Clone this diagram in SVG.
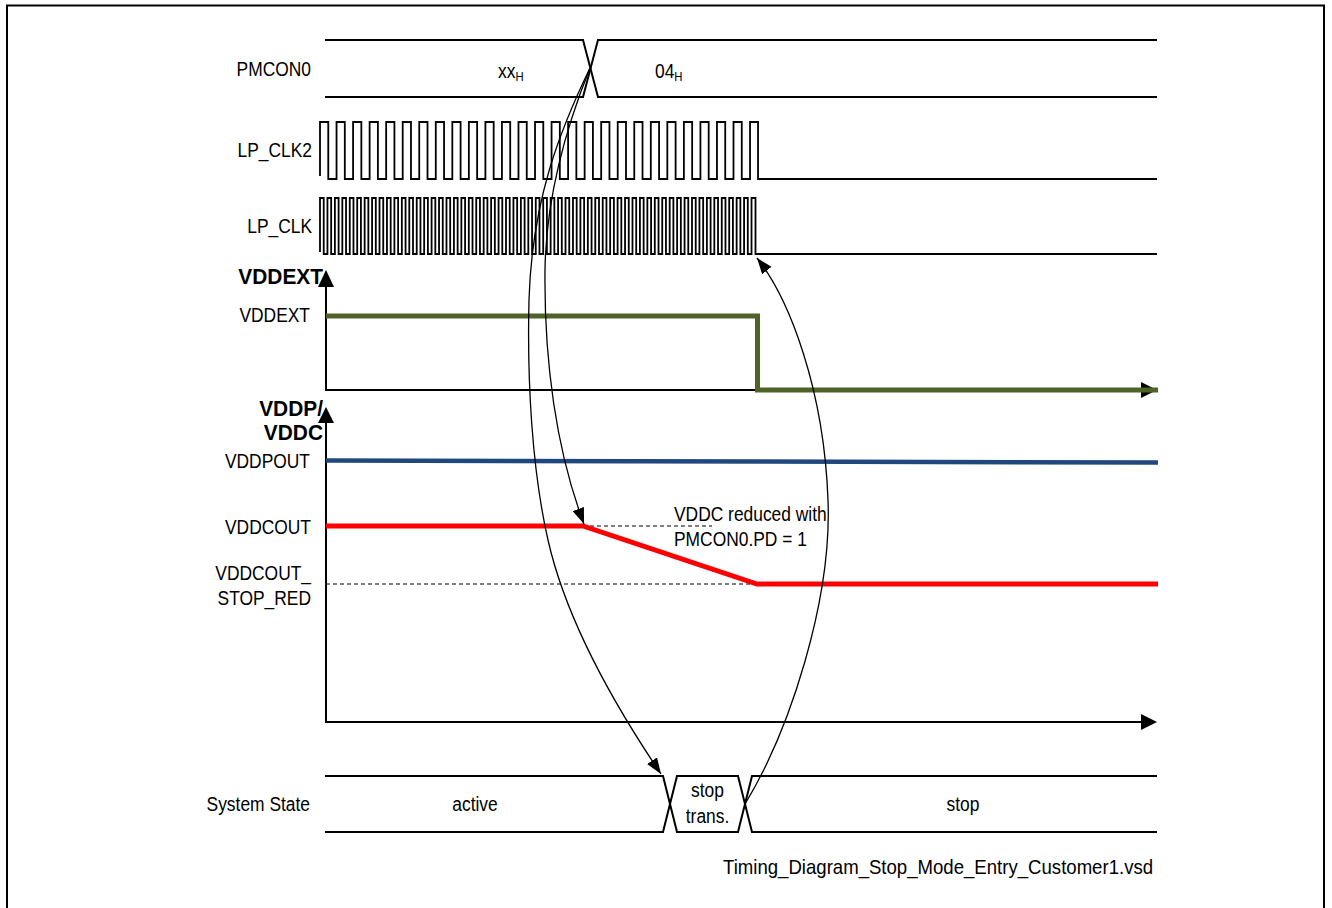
<svg xmlns="http://www.w3.org/2000/svg" width="1332" height="908" viewBox="0 0 1332 908">
<style>
.t{font-family:"Liberation Sans",Arial,sans-serif;font-size:20px;fill:#000}
.b{font-weight:bold;font-size:22px}
.sub{font-size:13px}
.ln{fill:none;stroke:#000;stroke-width:2;stroke-linejoin:miter}
.clk{fill:none;stroke:#000;stroke-width:1.8}
.dash{fill:none;stroke:#000;stroke-width:1;stroke-dasharray:4,3}
.conn{fill:none;stroke:#000;stroke-width:1.3}
.ah{fill:#000}
</style>
<defs>
<marker id="arr" viewBox="0 0 16 12" refX="16" refY="6" markerWidth="16" markerHeight="12" markerUnits="userSpaceOnUse" orient="auto"><path d="M0,0L16,6L0,12z" fill="#000"/></marker>
</defs>
<rect width="1332" height="908" fill="#fff"/>
<path d="M7,908V5.5H1324V908" fill="none" stroke="#000" stroke-width="2"/>

<g id="pmcon0">
<path class="ln" d="M325,40H583L598,97H1157"/>
<path class="ln" d="M325,97H583L598,40H1157"/>
<text class="t" text-anchor="end" transform="translate(311,76) scale(0.87,1)">PMCON0</text>
<text class="t" transform="translate(498,78) scale(0.87,1)">xx<tspan class="sub" dy="3">H</tspan></text>
<text class="t" transform="translate(655,78) scale(0.87,1)">04<tspan class="sub" dy="3">H</tspan></text>
</g>

<g id="lp_clk2">
<path class="clk" d="M320,176V122
h8.27V179h8.27V122 h8.27V179h8.27V122
h8.27V179h8.27V122 h8.27V179h8.27V122
h8.27V179h8.27V122 h8.27V179h8.27V122
h8.27V179h8.27V122 h8.27V179h8.27V122
h8.27V179h8.27V122 h8.27V179h8.27V122
h8.27V179h8.27V122 h8.27V179h8.27V122
h8.27V179h8.27V122 h8.27V179h8.27V122
h8.27V179h8.27V122 h8.27V179h8.27V122
h8.27V179h8.27V122 h8.27V179h8.27V122
h8.27V179h8.27V122 h8.27V179h8.27V122
h8.27V179h8.27V122 h8.27V179h8.27V122
h8.27V179h8.27V122 h8.27V179h8.27V122
h8.27V179h8.27V122 h8.27V179h8.27V122
h8V179H1157"/>
<text class="t" text-anchor="end" transform="translate(312,157) scale(0.87,1)">LP_CLK2</text>
</g>

<g id="lp_clk">
<path class="clk" d="M320,252V198
h3.72V254h3.72V198 h3.72V254h3.72V198 h3.72V254h3.72V198 h3.72V254h3.72V198 h3.72V254h3.72V198 h3.72V254h3.72V198 h3.72V254h3.72V198 h3.72V254h3.72V198 h3.72V254h3.72V198 h3.72V254h3.72V198
h3.72V254h3.72V198 h3.72V254h3.72V198 h3.72V254h3.72V198 h3.72V254h3.72V198 h3.72V254h3.72V198 h3.72V254h3.72V198 h3.72V254h3.72V198 h3.72V254h3.72V198 h3.72V254h3.72V198 h3.72V254h3.72V198
h3.72V254h3.72V198 h3.72V254h3.72V198 h3.72V254h3.72V198 h3.72V254h3.72V198 h3.72V254h3.72V198 h3.72V254h3.72V198 h3.72V254h3.72V198 h3.72V254h3.72V198 h3.72V254h3.72V198 h3.72V254h3.72V198
h3.72V254h3.72V198 h3.72V254h3.72V198 h3.72V254h3.72V198 h3.72V254h3.72V198 h3.72V254h3.72V198 h3.72V254h3.72V198 h3.72V254h3.72V198 h3.72V254h3.72V198 h3.72V254h3.72V198 h3.72V254h3.72V198
h3.72V254h3.72V198 h3.72V254h3.72V198 h3.72V254h3.72V198 h3.72V254h3.72V198 h3.72V254h3.72V198 h3.72V254h3.72V198 h3.72V254h3.72V198 h3.72V254h3.72V198 h3.72V254h3.72V198 h3.72V254h3.72V198
h3.72V254h3.72V198 h3.72V254h3.72V198 h3.72V254h3.72V198 h3.72V254h3.72V198 h3.72V254h3.72V198 h3.72V254h3.72V198 h3.72V254h3.72V198 h3.72V254h3.72V198
H755.5V254H1157"/>
<text class="t" text-anchor="end" transform="translate(312,233) scale(0.87,1)">LP_CLK</text>
</g>

<g id="vddext">
<path class="ln" d="M326,287V390H1141"/>
<path class="ah" d="M326,270L334,287H318z"/>
<path class="ah" d="M1157,390L1141,382V398z"/>
<path d="M326,316H757.5V390H1158" fill="none" stroke="#4f6228" stroke-width="5"/>
<text class="t b" text-anchor="end" transform="translate(323,284) scale(0.95,1)">VDDEXT</text>
<text class="t" text-anchor="end" transform="translate(310,322) scale(0.87,1)">VDDEXT</text>
</g>

<g id="vddp_vddc">
<path class="ln" d="M326,423V722H1141"/>
<path class="ah" d="M326,407L334,423H318z"/>
<path class="ah" d="M1157,722L1141,714V730z"/>
<path d="M326,460.5L1158,462.5" fill="none" stroke="#1f497d" stroke-width="4.5"/>
<path class="dash" d="M583,526H712M326,584H757"/>
<path d="M326,526H583L757,584H1158" fill="none" stroke="#ff0000" stroke-width="5"/>
<text class="t b" text-anchor="end" transform="translate(323,416) scale(0.95,1)">VDDP/</text>
<text class="t b" text-anchor="end" transform="translate(323,440) scale(0.95,1)">VDDC</text>
<text class="t" text-anchor="end" transform="translate(310,468) scale(0.87,1)">VDDPOUT</text>
<text class="t" text-anchor="end" transform="translate(311,534) scale(0.87,1)">VDDCOUT</text>
<text class="t" text-anchor="end" transform="translate(311,580) scale(0.87,1)">VDDCOUT_</text>
<text class="t" text-anchor="end" transform="translate(311,605) scale(0.87,1)">STOP_RED</text>
<text class="t" transform="translate(674,521) scale(0.87,1)">VDDC reduced with</text>
<text class="t" transform="translate(674,546) scale(0.87,1)">PMCON0.PD = 1</text>
</g>

<g id="system_state">
<path class="ln" d="M325,776H663L677,832H738L752,776H1157"/>
<path class="ln" d="M325,832H663L677,776H738L752,832H1157"/>
<text class="t" text-anchor="end" transform="translate(310,811) scale(0.87,1)">System State</text>
<text class="t" text-anchor="middle" transform="translate(475,811) scale(0.87,1)">active</text>
<text class="t" text-anchor="middle" transform="translate(707.5,797) scale(0.87,1)">stop</text>
<text class="t" text-anchor="middle" transform="translate(707.5,823) scale(0.87,1)">trans.</text>
<text class="t" text-anchor="middle" transform="translate(963,811) scale(0.87,1)">stop</text>
</g>

<g id="connectors">
<path class="conn" marker-end="url(#arr)" d="M590,68C560,130 532,200 529,300C527,380 532,470 548,540C565,615 611,700 661,774"/>
<path class="conn" marker-end="url(#arr)" d="M590,68C565,130 546,200 545,270C544,360 556,450 584,524"/>
<path class="conn" marker-end="url(#arr)" d="M745,804C790,730 832,600 828,500C824,390 790,300 757,258"/>
</g>

<text id="footer" class="t" transform="translate(723,874) scale(0.93,1)">Timing_Diagram_Stop_Mode_Entry_Customer1.vsd</text>
</svg>
